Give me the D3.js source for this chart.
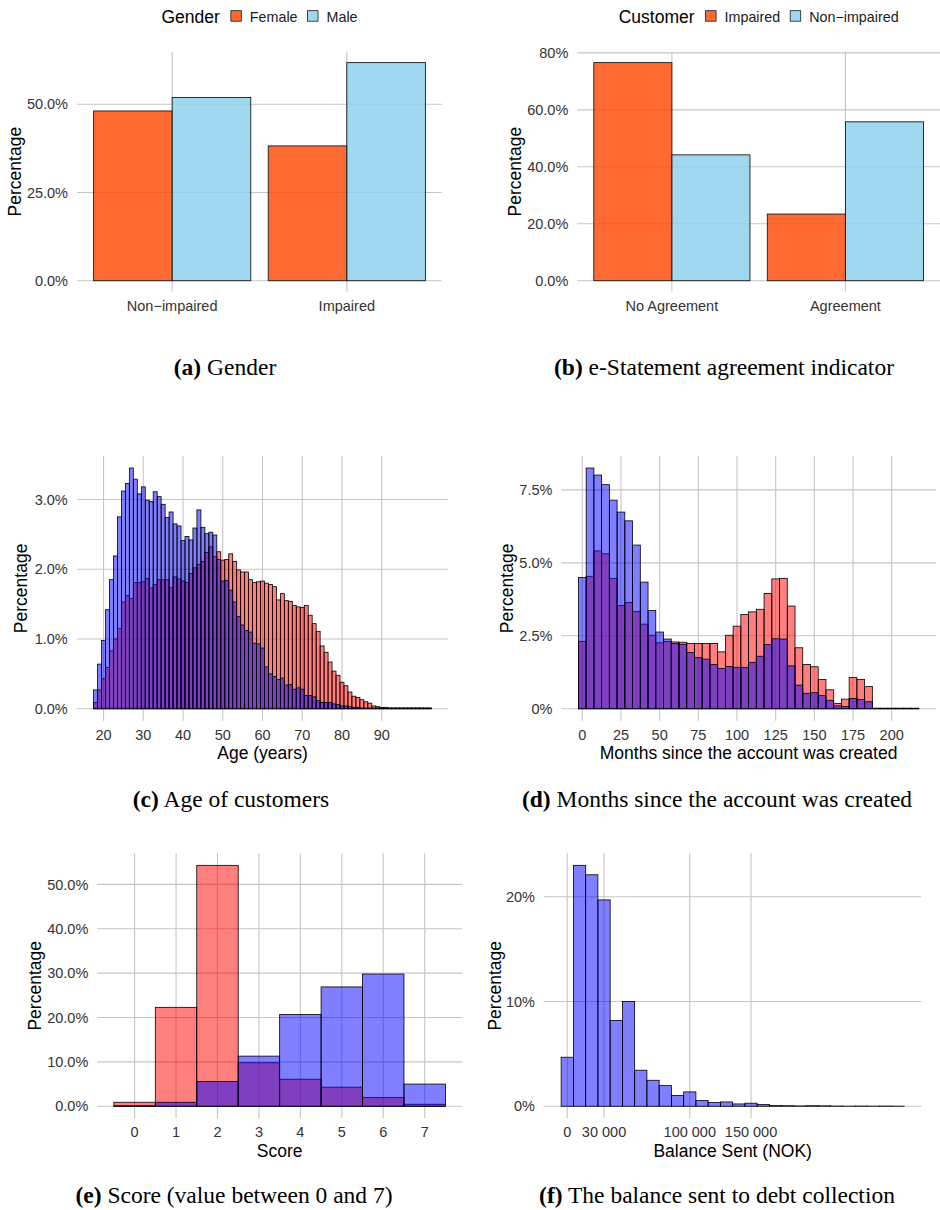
<!DOCTYPE html>
<html>
<head>
<meta charset="utf-8">
<script src="https://cdn.jsdelivr.net/npm/d3@7"></script>
<style>
  body { margin: 0; background: #fff; }
  svg { display: block; }
</style>
</head>
<body>
<svg id="fig" width="940" height="1210"></svg>
<script>
var SANS = "'Liberation Sans', Arial, Helvetica, sans-serif";
var SERIF = "'Liberation Serif', 'Times New Roman', serif";
var GRID = "#c6c6c6";
var TICK_COLOR = "#333";
var TICK_SIZE = "14.5px";
var TITLE_SIZE = "17.5px";

// (a) gender
var genderGroups = ["Non\u2212impaired", "Impaired"];
var genderKeys = ["Female", "Male"];
var genderFemale = [48.1, 38.2];
var genderMale = [51.9, 61.8];
var genderTicks = [0, 25, 50];
var genderTickLabels = ["0.0%", "25.0%", "50.0%"];

// (b) e-statement agreement
var agreeGroups = ["No Agreement", "Agreement"];
var agreeKeys = ["Impaired", "Non\u2212impaired"];
var agreeImpaired = [76.6, 23.4];
var agreeNonImpaired = [44.2, 55.8];
var agreeTicks = [0, 20, 40, 60, 80];
var agreeTickLabels = ["0.0%", "20.0%", "40.0%", "60.0%", "80%"];

// (c) age, one bin per year starting at 18
var ageFirst = 18;
var ageImpaired = [0.09, 0.27, 0.43, 0.59, 0.83, 1.00, 1.15, 1.53, 1.62, 1.58,
  1.81, 1.81, 1.82, 1.87, 1.73, 1.78, 1.85, 1.85, 1.85, 1.74,
  1.89, 1.86, 1.83, 1.81, 1.94, 2.02, 2.07, 2.11, 2.24, 2.32,
  2.18, 2.25, 2.13, 2.14, 2.22, 2.11, 1.99, 1.96, 1.96, 1.85,
  1.81, 1.82, 1.83, 1.80, 1.78, 1.75, 1.56, 1.65, 1.55, 1.54,
  1.48, 1.46, 1.45, 1.48, 1.34, 1.22, 1.11, 0.90, 0.81, 0.67,
  0.54, 0.48, 0.38, 0.33, 0.24, 0.18, 0.16, 0.13, 0.10, 0.08,
  0.04, 0.03, 0.02, 0.02, 0.01, 0.01, 0.01, 0.01, 0.01, 0.01,
  0.01, 0.01, 0.01, 0.01, 0.01];
var ageNonImpaired = [0.27, 0.64, 0.98, 1.42, 1.85, 2.19, 2.75, 3.12, 3.23, 3.45,
  3.29, 3.08, 3.18, 2.99, 2.97, 3.11, 3.04, 2.93, 2.74, 2.82,
  2.65, 2.62, 2.41, 2.47, 2.42, 2.59, 2.85, 2.60, 2.51, 2.53,
  2.49, 2.14, 1.83, 1.84, 1.70, 1.53, 1.32, 1.20, 1.12, 1.10,
  0.94, 0.93, 0.87, 0.60, 0.50, 0.46, 0.42, 0.44, 0.34, 0.35,
  0.28, 0.30, 0.28, 0.19, 0.19, 0.17, 0.12, 0.09, 0.09, 0.09,
  0.07, 0.06, 0.04, 0.04, 0.03, 0.02, 0.02, 0.01, 0.01, 0.01,
  0.01, 0.01, 0.01, 0.01, 0.01, 0.01, 0.01, 0.01, 0.01, 0.01,
  0.01, 0.01, 0.01, 0.01, 0.01];
var ageTicks = [20, 30, 40, 50, 60, 70, 80, 90];
var ageYTicks = [0, 1, 2, 3];
var ageYTickLabels = ["0.0%", "1.0%", "2.0%", "3.0%"];

// (d) months since account creation, bins of 5 months starting at 0
var monthFirst = 0;
var monthImpaired = [2.31, 4.54, 5.41, 5.31, 4.47, 3.54, 3.64, 3.33, 2.90, 2.52,
  2.26, 2.31, 2.29, 2.28, 2.24, 2.24, 2.24, 2.24, 1.95, 2.52,
  2.83, 3.23, 3.32, 3.41, 3.95, 4.45, 4.47, 3.52, 2.09, 1.52,
  1.44, 1.00, 0.65, 0.18, 0.33, 1.07, 1.00, 0.76, 0.01, 0.01,
  0.01, 0.01, 0.01, 0.01];
var monthNonImpaired = [4.50, 8.25, 8.01, 7.68, 7.15, 6.74, 6.44, 5.61, 4.34, 3.37,
  2.63, 2.39, 2.24, 2.21, 1.93, 1.75, 1.70, 1.52, 1.38, 1.45,
  1.42, 1.42, 1.59, 1.80, 2.20, 2.40, 2.39, 1.47, 0.81, 0.53,
  0.55, 0.45, 0.29, 0.10, 0.08, 0.35, 0.32, 0.24, 0.02, 0.02,
  0.02, 0.02, 0.02, 0.02];
var monthTicks = [0, 25, 50, 75, 100, 125, 150, 175, 200];
var monthYTicks = [0, 2.5, 5, 7.5];
var monthYTickLabels = ["0%", "2.5%", "5.0%", "7.5%"];

// (e) score 0..7
var scoreFirst = 0;
var scoreImpaired = [0.9, 22.3, 54.3, 9.8, 6.1, 4.3, 2.0, 0.45];
var scoreNonImpaired = [0.1, 0.9, 5.6, 11.3, 20.7, 26.9, 29.8, 5.0];
var scoreTicks = [0, 1, 2, 3, 4, 5, 6, 7];
var scoreYTicks = [0, 10, 20, 30, 40, 50];
var scoreYTickLabels = ["0.0%", "10.0%", "20.0%", "30.0%", "40.0%", "50.0%"];

// (f) balance sent to debt collection, bins of 10 000 NOK
var balanceFirst = 0;
var balanceValues = [4.68, 23.0, 22.1, 19.7, 8.18, 10.0, 3.44, 2.48, 1.97, 1.02,
  1.37, 0.54, 0.35, 0.41, 0.22, 0.29, 0.16, 0.06, 0.05, 0.03,
  0.05, 0.04, 0.02, 0.01, 0.02, 0.01, 0.02, 0.01];
var balanceTicks = [0, 30000, 100000, 150000];
var balanceTickLabels = ["0", "30 000", "100 000", "150 000"];
var balanceYTicks = [0, 10, 20];
var balanceYTickLabels = ["0%", "10%", "20%"];

var svg = d3.select("#fig");
svg.append("rect").attr("width", 940).attr("height", 1210).attr("fill", "#fff");

var drawGrid = function(g, p, x, y, xTicks) {
  g.selectAll("line.hgrid").data(p.yTicks).enter().append("line")
    .attr("x1", p.left).attr("x2", p.right)
    .attr("y1", function(d) { return y(d); }).attr("y2", function(d) { return y(d); })
    .attr("stroke", GRID).attr("stroke-width", 1.1);
  g.selectAll("line.vgrid").data(xTicks).enter().append("line")
    .attr("x1", function(d) { return x(d); }).attr("x2", function(d) { return x(d); })
    .attr("y1", p.top).attr("y2", p.bottom)
    .attr("stroke", GRID).attr("stroke-width", 1.1);
};

var drawYAxis = function(g, p, y) {
  g.selectAll("text.ytick").data(p.yTicks).enter().append("text")
    .attr("x", p.left - 9).attr("y", function(d) { return y(d); })
    .attr("dy", "0.36em").attr("text-anchor", "end")
    .attr("font-family", SANS).attr("font-size", TICK_SIZE).attr("fill", TICK_COLOR)
    .text(function(d, i) { return p.yTickLabels[i]; });
  var cy = (p.top + p.bottom) / 2;
  g.append("text")
    .attr("transform", "translate(" + p.yTitleX + "," + cy + ") rotate(-90)")
    .attr("dy", "0.36em").attr("text-anchor", "middle")
    .attr("font-family", SANS).attr("font-size", TITLE_SIZE).attr("fill", "#000")
    .text("Percentage");
};

var drawXLabels = function(g, p, positions, labels) {
  g.selectAll("text.xtick").data(positions).enter().append("text")
    .attr("x", function(d) { return d; }).attr("y", p.bottom + 19)
    .attr("text-anchor", "middle")
    .attr("font-family", SANS).attr("font-size", TICK_SIZE).attr("fill", TICK_COLOR)
    .text(function(d, i) { return labels[i]; });
  if (p.xTitle) {
    g.append("text")
      .attr("x", (p.left + p.right) / 2).attr("y", p.bottom + 38.5)
      .attr("text-anchor", "middle")
      .attr("font-family", SANS).attr("font-size", TITLE_SIZE).attr("fill", "#000")
      .text(p.xTitle);
  }
};

var drawLegend = function(g, p, colors) {
  // title + keys, centred over the panel
  var lg = g.append("g");
  var title = lg.append("text").attr("y", 22.5)
    .attr("font-family", SANS).attr("font-size", TITLE_SIZE).attr("fill", "#000")
    .text(p.legendTitle);
  var cursor = title.node().getComputedTextLength() + 11;
  p.keys.forEach(function(k, i) {
    lg.append("rect").attr("x", cursor).attr("y", 10.7).attr("width", 10.5).attr("height", 10.5)
      .attr("fill", colors[i]).attr("fill-opacity", 0.8)
      .attr("stroke", "#1a1a1a").attr("stroke-width", 0.8);
    var t = lg.append("text").attr("x", cursor + 19).attr("y", 21.5)
      .attr("font-family", SANS).attr("font-size", "14.3px").attr("fill", "#1a1a1a")
      .text(k);
    cursor += 19 + t.node().getComputedTextLength() + 10;
  });
  var w = cursor - 10;
  lg.attr("transform", "translate(" + ((p.left + p.right) / 2 - w / 2) + ",0)");
};

var barPanel = function(p) {
  var g = svg.append("g");
  var colors = ["#ff4500", "#87ceeb"];
  var x0 = d3.scaleBand().domain(p.groups).range([p.left, p.right])
    .paddingInner(0.1).paddingOuter(0.095);
  var x1 = d3.scaleBand().domain(p.keys).range([0, x0.bandwidth()]);
  var maxV = d3.max(p.series, function(s) { return d3.max(s); });
  var y = d3.scaleLinear().domain([-0.05 * maxV, 1.05 * maxV]).range([p.bottom, p.top]);
  var centre = function(d) { return x0(d) + x0.bandwidth() / 2; };

  drawGrid(g, p, centre, y, p.groups);

  p.series.forEach(function(vals, si) {
    g.selectAll("rect.s" + si).data(p.groups).enter().append("rect")
      .attr("x", function(d) { return x0(d) + x1(p.keys[si]); })
      .attr("width", x1.bandwidth())
      .attr("y", function(d, i) { return y(vals[i]); })
      .attr("height", function(d, i) { return y(0) - y(vals[i]); })
      .attr("fill", colors[si]).attr("fill-opacity", 0.8)
      .attr("stroke", "#1a1a1a").attr("stroke-width", 0.9);
  });

  drawYAxis(g, p, y);
  drawXLabels(g, p, p.groups.map(centre), p.groups);
  drawLegend(g, p, colors);
};

var histPanel = function(p) {
  var g = svg.append("g");
  var n = p.series[0].values.length;
  var lo = p.first - p.width / 2, hi = p.first + (n - 1) * p.width + p.width / 2;
  var pad = 0.05 * (hi - lo);
  var x = d3.scaleLinear().domain([lo - pad, hi + pad]).range([p.left, p.right]);
  var maxV = d3.max(p.series, function(s) { return d3.max(s.values); });
  var y = d3.scaleLinear().domain([-0.05 * maxV, 1.05 * maxV]).range([p.bottom, p.top]);

  drawGrid(g, p, x, y, p.xTicks);

  p.series.forEach(function(s, si) {
    g.selectAll("rect.h" + si).data(s.values).enter().append("rect")
      .attr("x", function(d, i) { return x(p.first + i * p.width - p.width / 2); })
      .attr("width", x(p.width) - x(0))
      .attr("y", function(d) { return y(d); })
      .attr("height", function(d) { return y(0) - y(d); })
      .attr("fill", s.color).attr("fill-opacity", 0.5)
      .attr("stroke", "#000").attr("stroke-width", 0.8);
  });

  drawYAxis(g, p, y);
  drawXLabels(g, p, p.xTicks.map(x), p.xTickLabels || p.xTicks);
};

var caption = function(cx, cy, tag, text) {
  var t = svg.append("text").attr("x", cx).attr("y", cy).attr("text-anchor", "middle")
    .attr("font-family", SERIF).attr("font-size", "23.5px").attr("fill", "#000");
  t.append("tspan").attr("font-weight", "bold").text("(" + tag + ")");
  t.append("tspan").text(" " + text);
};

barPanel({
  left: 77, right: 442, top: 51.7, bottom: 291.6,
  groups: genderGroups, keys: genderKeys, series: [genderFemale, genderMale],
  yTicks: genderTicks, yTickLabels: genderTickLabels,
  legendTitle: "Gender", yTitleX: 15
});
barPanel({
  left: 577.3, right: 940, top: 51.7, bottom: 291.6,
  groups: agreeGroups, keys: agreeKeys, series: [agreeImpaired, agreeNonImpaired],
  yTicks: agreeTicks, yTickLabels: agreeTickLabels,
  legendTitle: "Customer", yTitleX: 515
});
histPanel({
  left: 76.7, right: 448.3, top: 456, bottom: 720.8,
  first: ageFirst, width: 1,
  series: [{ values: ageImpaired, color: "#ff0000" }, { values: ageNonImpaired, color: "#0000ff" }],
  xTicks: ageTicks, yTicks: ageYTicks, yTickLabels: ageYTickLabels,
  xTitle: "Age (years)", yTitleX: 21
});
histPanel({
  left: 561.4, right: 935.8, top: 456, bottom: 720.8,
  first: monthFirst, width: 5,
  series: [{ values: monthImpaired, color: "#ff0000" }, { values: monthNonImpaired, color: "#0000ff" }],
  xTicks: monthTicks, yTicks: monthYTicks, yTickLabels: monthYTickLabels,
  xTitle: "Months since the account was created", yTitleX: 506.7
});
histPanel({
  left: 97.3, right: 462, top: 853.3, bottom: 1118.3,
  first: scoreFirst, width: 1,
  series: [{ values: scoreImpaired, color: "#ff0000" }, { values: scoreNonImpaired, color: "#0000ff" }],
  xTicks: scoreTicks, yTicks: scoreYTicks, yTickLabels: scoreYTickLabels,
  xTitle: "Score", yTitleX: 35
});
histPanel({
  left: 544, right: 921.3, top: 853.3, bottom: 1118.3,
  first: balanceFirst, width: 10000,
  series: [{ values: balanceValues, color: "#0000ff" }],
  xTicks: balanceTicks, xTickLabels: balanceTickLabels,
  yTicks: balanceYTicks, yTickLabels: balanceYTickLabels,
  xTitle: "Balance Sent (NOK)", yTitleX: 495
});

caption(225, 375, "a", "Gender");
caption(724, 375, "b", "e-Statement agreement indicator");
caption(231, 806.5, "c", "Age of customers");
caption(717, 806.5, "d", "Months since the account was created");
caption(234, 1203, "e", "Score (value between 0 and 7)");
caption(717, 1203, "f", "The balance sent to debt collection");
</script>
</body>
</html>
